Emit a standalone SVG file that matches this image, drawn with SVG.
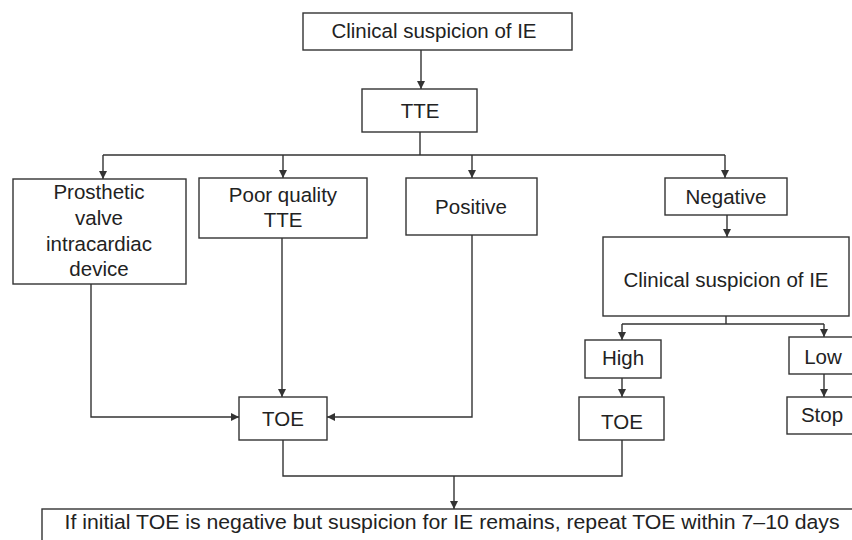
<svg xmlns="http://www.w3.org/2000/svg" width="852" height="540" viewBox="0 0 852 540">
<style>
.box{fill:#fff;stroke:#333;stroke-width:1.4}
.t{font-family:"Liberation Sans",Arial,sans-serif;font-size:20.5px;fill:#222;text-anchor:middle}
.c{fill:none;stroke:#333;stroke-width:1.4}
</style>
<defs>
<marker id="ah" markerUnits="userSpaceOnUse" markerWidth="9" markerHeight="8" refX="8" refY="4" orient="auto">
<path d="M0,0 L8,4 L0,8 z" fill="#333"/>
</marker>
</defs>
<rect width="852" height="540" fill="#fff"/>
<g id="connectors">
<path class="c" d="M421,50 V89" marker-end="url(#ah)"/>
<path class="c" d="M420,132 V155 M103,155 H725"/>
<path class="c" d="M103,155 V179" marker-end="url(#ah)"/>
<path class="c" d="M283,155 V178" marker-end="url(#ah)"/>
<path class="c" d="M472,155 V178" marker-end="url(#ah)"/>
<path class="c" d="M725,155 V178" marker-end="url(#ah)"/>
<path class="c" d="M727,215 V237" marker-end="url(#ah)"/>
<path class="c" d="M726,316 V324 M622,324 H824"/>
<path class="c" d="M622,324 V340" marker-end="url(#ah)"/>
<path class="c" d="M824,324 V337" marker-end="url(#ah)"/>
<path class="c" d="M622,378 V397" marker-end="url(#ah)"/>
<path class="c" d="M824,374 V397" marker-end="url(#ah)"/>
<path class="c" d="M91,284 V417 H239" marker-end="url(#ah)"/>
<path class="c" d="M282,238 V397" marker-end="url(#ah)"/>
<path class="c" d="M472,235 V417 H327" marker-end="url(#ah)"/>
<path class="c" d="M283,440 V476 H622 V440"/>
<path class="c" d="M454,476 V509" marker-end="url(#ah)"/>
</g>
<g id="n-clinical1"><rect class="box" x="303" y="13" width="269" height="37"/><text class="t" x="434" y="38">Clinical suspicion of IE</text></g>
<g id="n-tte"><rect class="box" x="362" y="89" width="115" height="43"/><text class="t" x="420" y="118">TTE</text></g>
<g id="n-prosthetic"><rect class="box" x="13" y="179" width="173" height="105"/>
<text class="t" x="99" y="199">Prosthetic</text><text class="t" x="99" y="225">valve</text><text class="t" x="99" y="251">intracardiac</text><text class="t" x="99" y="276">device</text></g>
<g id="n-poor"><rect class="box" x="199" y="178" width="168" height="60"/>
<text class="t" x="283" y="202">Poor quality</text><text class="t" x="283" y="227">TTE</text></g>
<g id="n-positive"><rect class="box" x="406" y="178" width="131" height="57"/><text class="t" x="471" y="214">Positive</text></g>
<g id="n-negative"><rect class="box" x="665" y="178" width="122" height="37"/><text class="t" x="726" y="204">Negative</text></g>
<g id="n-clinical2"><rect class="box" x="603" y="237" width="246" height="79"/><text class="t" x="726" y="287">Clinical suspicion of IE</text></g>
<g id="n-high"><rect class="box" x="585" y="340" width="76" height="38"/><text class="t" x="623" y="365">High</text></g>
<g id="n-low"><rect class="box" x="789" y="337" width="70" height="37"/><text class="t" x="823" y="364">Low</text></g>
<g id="n-toe1"><rect class="box" x="239" y="397" width="88" height="43"/><text class="t" x="283" y="426">TOE</text></g>
<g id="n-toe2"><rect class="box" x="579" y="397" width="85" height="43"/><text class="t" x="622" y="429">TOE</text></g>
<g id="n-stop"><rect class="box" x="787" y="397" width="72" height="37"/><text class="t" x="822" y="422">Stop</text></g>
<g id="n-final"><rect class="box" x="42" y="509" width="820" height="40"/><text class="t" x="452" y="529" textLength="775" lengthAdjust="spacingAndGlyphs">If initial TOE is negative but suspicion for IE remains, repeat TOE within 7–10 days</text></g>
</svg>
